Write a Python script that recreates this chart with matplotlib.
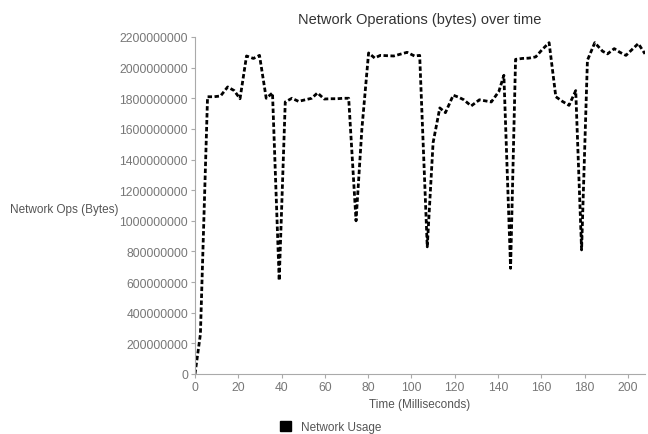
import matplotlib
matplotlib.use('Agg')
import matplotlib.pyplot as plt
from matplotlib.patches import Patch

plt.rcParams['font.family'] = ['Liberation Sans', 'DejaVu Sans']

# - - - - - - DATA - - - - - -
time_ms = [0, 2.5, 5.8, 8.8, 11.8, 15.1, 18.1, 20.8, 23.8, 27.0, 29.8, 32.9, 35.8,
           38.9, 41.7, 44.8, 47.8, 50.9, 53.9, 56.6, 59.7, 62.7, 65.7, 68.5, 71.0,
           74.4, 77.1, 80.2, 83.0, 85.6, 88.7, 91.8, 94.9, 98.0, 101.4, 103.8,
           107.3, 110.0, 113.1, 115.7, 119.3, 121.8, 124.2, 127.6, 131.4, 136.9,
           140.4, 142.7, 145.8, 148.1, 151.2, 154.2, 157.4, 160.4, 163.6, 166.7,
           169.7, 172.8, 175.9, 178.6, 181.3, 184.7, 188.3, 190.6, 193.7, 196.3,
           199.1, 201.9, 204.8, 207.9]
# network usage in units of 1e9 bytes
usage_g = [0.0, 0.26, 1.81, 1.81, 1.815, 1.874, 1.85, 1.797, 2.076, 2.06, 2.08, 1.80, 1.835,
           0.61, 1.776, 1.80, 1.78, 1.79, 1.80, 1.835, 1.795, 1.797, 1.797, 1.80, 1.80,
           1.0, 1.60, 2.096, 2.063, 2.08, 2.078, 2.076, 2.088, 2.10, 2.076, 2.08,
           0.83, 1.51, 1.737, 1.706, 1.82, 1.807, 1.79, 1.75, 1.79, 1.776,
           1.845, 1.95, 0.69, 2.054, 2.06, 2.062, 2.07, 2.118, 2.163, 1.81,
           1.78, 1.754, 1.85, 0.81, 2.048, 2.163, 2.107, 2.09, 2.124, 2.10,
           2.08, 2.118, 2.157, 2.09]
usage_bytes = [v * 1e9 for v in usage_g]

y_ticks = list(range(0, 2200000001, 200000000))
x_ticks = list(range(0, 201, 20))

# - - - - - - PLOT - - - - - -
fig = plt.figure(figsize=(6.48, 4.35), dpi=100)
ax = fig.add_axes([195 / 648, 60 / 435, 450 / 648, 337 / 435])

ax.plot(time_ms, usage_bytes, color='black', lw=2.0, linestyle=(0, (1.6, 0.9)),
        label='Network Usage')

ax.set_xlim(0, time_ms[-1])
ax.set_ylim(0, 2200000000)
ax.set_yticks(y_ticks)
ax.set_yticklabels([str(v) for v in y_ticks])
ax.set_xticks(x_ticks)

grey = '#aaaaaa'
for side in ['top', 'right']:
    ax.spines[side].set_visible(False)
for side in ['left', 'bottom']:
    ax.spines[side].set_color(grey)
ax.tick_params(colors=grey, labelcolor='#777777', labelsize=8.7, length=3, pad=2)

ax.set_title('Network Operations (bytes) over time', fontsize=10.5, color='#333333', pad=10)
ax.set_xlabel('Time (Milliseconds)', fontsize=8.5, color='#555555', va='center')
ax.xaxis.set_label_coords(0.5, -0.09)
ax.set_ylabel('Network Ops (Bytes)', fontsize=8.5, color='#555555', rotation=0,
              ha='right', va='center')
ax.yaxis.set_label_coords(-0.17, 0.49)

handle = Patch(facecolor='black', edgecolor='black')
fig.legend([handle], ['Network Usage'], loc='center', bbox_to_anchor=(0.51, 0.016),
           frameon=False, fontsize=8.5, handlelength=1.0, handleheight=1.0,
           labelcolor='#555555')

fig.savefig('out.png', dpi=100)
